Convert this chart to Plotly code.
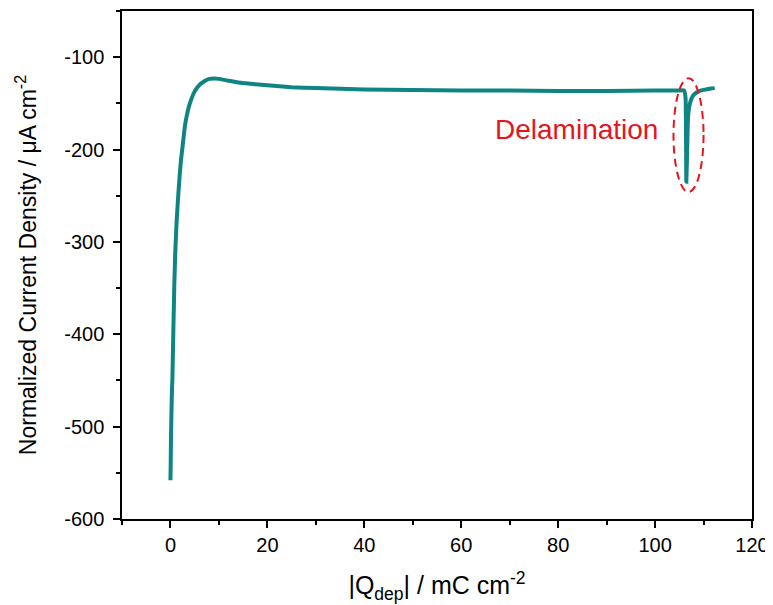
import plotly.graph_objects as go

# Data
q_dep = [0, 0.05, 0.1, 0.2, 0.3, 0.4, 0.6, 0.8, 1.0, 1.3, 1.6, 1.9, 2.2, 2.6, 3.0, 3.5,
         4.0, 5.0, 6.0, 7.0, 8.0, 9.0, 10, 12, 15, 20, 25, 30, 40, 50, 60, 70, 80, 90,
         100, 105, 106.0, 106.3, 106.45, 106.6, 106.8, 107.2, 107.8, 108.5, 109.5,
         110.5, 111.5, 112.3]
current = [-558, -540, -515, -485, -462, -448, -395, -345, -310, -275, -250, -228, -210,
           -192, -174, -160, -150, -137, -130, -126, -123.5, -123, -123.5, -125.5, -128,
           -130.5, -132.5, -133.5, -135, -135.5, -136, -136, -136.5, -136.5, -136, -136,
           -136, -145, -235, -205, -165, -150, -142, -138.5, -136, -135, -134, -133.5]

x_ticks = [0, 20, 40, 60, 80, 100, 120]
x_tick_labels = ["0", "20", "40", "60", "80", "100", "120"]
y_ticks = [-600, -500, -400, -300, -200, -100]
y_tick_labels = ["-600", "-500", "-400", "-300", "-200", "-100"]

annotation_text = "Delamination"
ellipse_x = [103.8, 110.0]
ellipse_y = [-246, -122.7]

FONT = "Arial, Liberation Sans, sans-serif"

fig = go.Figure()
fig.add_trace(go.Scatter(
    x=q_dep, y=current, mode="lines",
    line=dict(color="#0e8582", width=4, shape="spline", smoothing=0.3),
    showlegend=False,
))

fig.add_shape(type="circle", xref="x", yref="y",
              x0=ellipse_x[0], x1=ellipse_x[1], y0=ellipse_y[0], y1=ellipse_y[1],
              line=dict(color="#e8141c", width=2, dash="8px,5px"))

fig.add_annotation(x=83.7, y=-178, xref="x", yref="y", text=annotation_text,
                   showarrow=False, font=dict(family=FONT, size=28, color="#e8141c"))

axis_common = dict(
    showgrid=False, zeroline=False, showline=True, linecolor="black", linewidth=1.5,
    mirror=True, ticks="outside", ticklen=7, tickwidth=1.5, tickcolor="black",
    tickfont=dict(family=FONT, size=20, color="black"), automargin=False,
)

fig.update_xaxes(
    range=[-10, 120], tickvals=x_ticks, ticktext=x_tick_labels,
    minor=dict(ticks="outside", ticklen=4, tickwidth=1.5, tickcolor="black", dtick=10, tick0=0),
    title=dict(text="|Q<sub>dep</sub>| / mC cm<sup>-2</sup>",
               font=dict(family=FONT, size=25, color="black"), standoff=22),
    **axis_common,
)
fig.update_yaxes(
    range=[-600, -50], tickvals=y_ticks, ticktext=y_tick_labels, ticklabelstandoff=5,
    minor=dict(ticks="outside", ticklen=4, tickwidth=1.5, tickcolor="black", dtick=50, tick0=0),
    title=dict(text="Normalized Current Density / μA cm<sup>-2</sup>",
               font=dict(family=FONT, size=23, color="black"), standoff=21),
    **axis_common,
)

# the page body has an 8px default margin, so the figure is offset by 8px
fig.update_layout(
    width=765, height=597,
    margin=dict(l=114, r=21, t=3, b=86),
    plot_bgcolor="white", paper_bgcolor="white",
)

fig.write_html("out.html")
